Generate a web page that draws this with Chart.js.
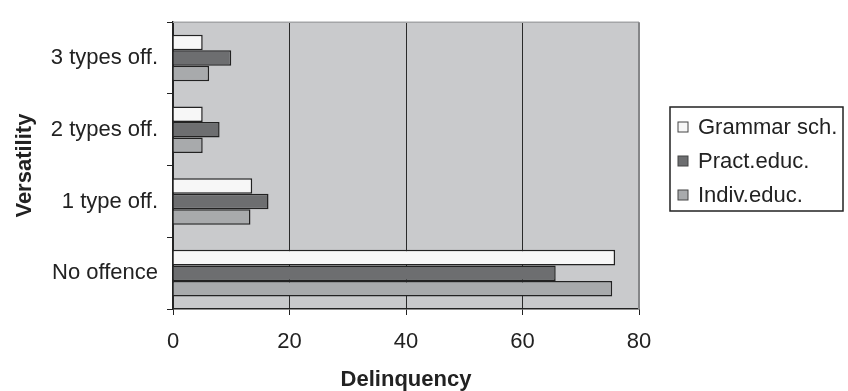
<!DOCTYPE html>
<html>
<head>
<meta charset="utf-8">
<script src="https://cdn.jsdelivr.net/npm/chart.js@4/dist/chart.umd.min.js"></script>
<style>
  html, body { margin: 0; padding: 0; background: #fff; }
  #wrap { width: 848px; height: 391px; }
</style>
</head>
<body>
<div id="wrap"><canvas id="my-chart" width="848" height="391"></canvas></div>
<script>
const versatility = ["3 types off.", "2 types off.", "1 type off.", "No offence"];
const grammarSch = [5.1, 5.1, 13.6, 75.9];
const practEduc = [10, 8, 16.4, 65.7];
const indivEduc = [6.2, 5.1, 13.3, 75.4];
const xTicks = [0, 20, 40, 60, 80];

const FONT = "'Liberation Sans', Arial, sans-serif";
const INK = "#222";

// grey plot background + the light top / right frame
const plotFrame = {
  id: "plotFrame",
  beforeDraw(chart) {
    const { ctx, chartArea: a } = chart;
    ctx.save();
    ctx.fillStyle = "#c9cacc";
    ctx.fillRect(a.left, a.top, a.right - a.left, a.bottom - a.top);
    ctx.restore();
  },
  afterDraw(chart) {
    const { ctx, chartArea: a } = chart;
    ctx.save();
    ctx.strokeStyle = "#a4a5a7";
    ctx.lineWidth = 1.5;
    ctx.beginPath();
    ctx.moveTo(a.left, a.top);
    ctx.lineTo(a.right, a.top);
    ctx.stroke();
    ctx.strokeStyle = "#858688";
    ctx.lineWidth = 2;
    ctx.beginPath();
    ctx.moveTo(a.right, a.top);
    ctx.lineTo(a.right, a.bottom);
    ctx.stroke();
    ctx.restore();
  },
};

// boxed legend on the right
const boxLegend = {
  id: "boxLegend",
  afterDraw(chart) {
    const ctx = chart.ctx;
    const x = 670, y = 107, w = 173, h = 104;
    ctx.save();
    ctx.fillStyle = "#fff";
    ctx.fillRect(x, y, w, h);
    ctx.strokeStyle = INK;
    ctx.lineWidth = 1.5;
    ctx.strokeRect(x, y, w, h);
    ctx.font = "22px " + FONT;
    ctx.textBaseline = "middle";
    chart.data.datasets.forEach((ds, i) => {
      const cy = 127 + i * 34;
      ctx.fillStyle = ds.backgroundColor;
      ctx.fillRect(678, cy - 5, 10, 10);
      ctx.strokeStyle = "#444";
      ctx.lineWidth = 1;
      ctx.strokeRect(678, cy - 5, 10, 10);
      ctx.fillStyle = INK;
      ctx.fillText(ds.label, 698, cy + 1);
    });
    ctx.restore();
  },
};

const ctx = document.getElementById("my-chart").getContext("2d");
const chart = new Chart(ctx, {
  type: "bar",
  data: {
    labels: versatility,
    datasets: [
      { label: "Grammar sch.", data: grammarSch, backgroundColor: "#f7f7f7" },
      { label: "Pract.educ.", data: practEduc, backgroundColor: "#6d6e70" },
      { label: "Indiv.educ.", data: indivEduc, backgroundColor: "#a8aaac" },
    ],
  },
  options: {
    indexAxis: "y",
    responsive: false,
    animation: false,
    devicePixelRatio: 1,
    layout: { padding: { top: 10, right: 209, bottom: 0, left: 0 } },
    datasets: {
      bar: {
        borderColor: INK,
        borderWidth: 1.5,
        categoryPercentage: 0.65,
        barPercentage: 1,
      },
    },
    plugins: {
      legend: { display: false },
      tooltip: { enabled: false },
    },
    scales: {
      x: {
        min: 0,
        max: 80,
        afterBuildTicks: (s) => { s.ticks = xTicks.map((v) => ({ value: v })); },
        afterFit: (s) => { s.height = 82; },
        border: { color: INK, width: 1.5 },
        grid: {
          color: (c) => (c.tick && c.tick.value === 80 ? "rgba(0,0,0,0)" : "#2a2a2a"),
          tickColor: INK,
          tickLength: 6,
          lineWidth: 1,
        },
        ticks: { color: INK, padding: 14, font: { family: FONT, size: 22 } },
        title: {
          display: true,
          text: "Delinquency",
          color: INK,
          padding: { top: 0, bottom: -2 },
          font: { family: FONT, size: 22, weight: "bold" },
        },
      },
      y: {
        afterFit: (s) => { s.width = 173; },
        border: { color: INK, width: 1.5 },
        grid: {
          drawOnChartArea: false,
          color: INK,
          tickLength: 6,
        },
        ticks: { color: INK, padding: 9, font: { family: FONT, size: 22 } },
        title: {
          display: true,
          text: "Versatility",
          color: INK,
          padding: { top: 12, bottom: 0 },
          font: { family: FONT, size: 22, weight: "bold" },
        },
      },
    },
  },
  plugins: [plotFrame, boxLegend],
});
</script>
</body>
</html>
